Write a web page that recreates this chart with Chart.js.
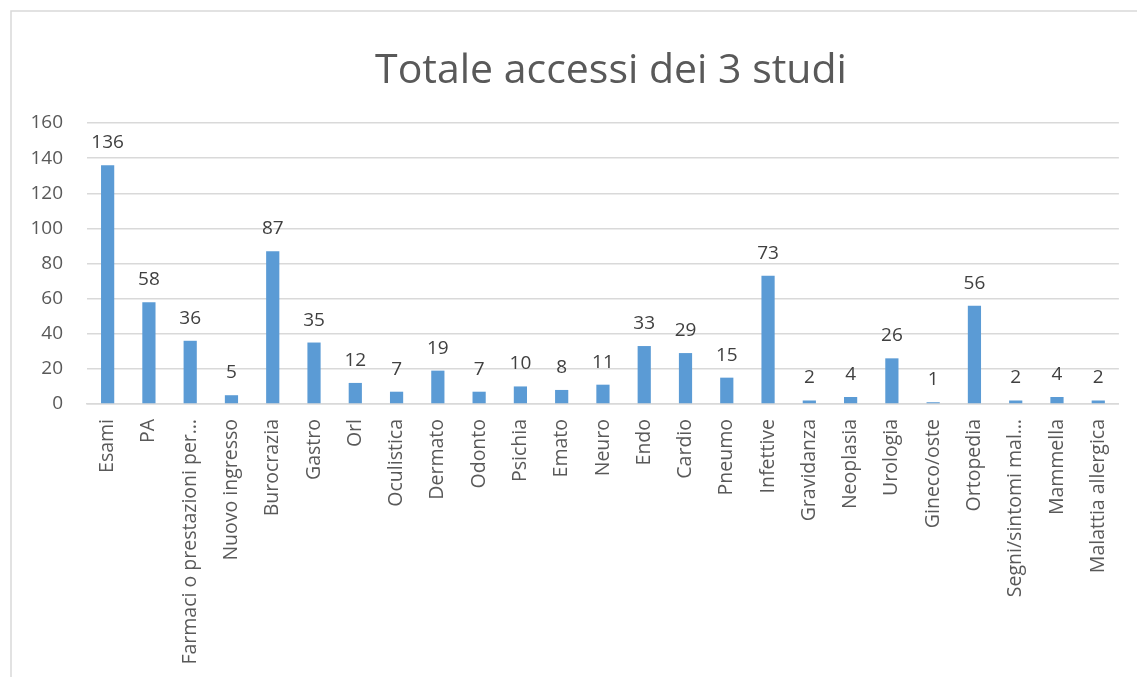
<!DOCTYPE html>
<html>
<head>
<meta charset="utf-8">
<title>Totale accessi dei 3 studi</title>
<script src="https://cdn.jsdelivr.net/npm/chart.js@4.4.0/dist/chart.umd.min.js"></script>
<style>
    html, body { margin: 0; padding: 0; background: #fff; overflow: hidden; }
    #wrap { position: relative; width: 1137px; height: 677px; }
</style>
</head>
<body>
<div id="wrap"><canvas id="accessi-chart" width="1137" height="677"></canvas></div>
<script>
const categories = [
    'Esami', 'PA', 'Farmaci o prestazioni per…', 'Nuovo ingresso', 'Burocrazia',
    'Gastro', 'Orl', 'Oculistica', 'Dermato', 'Odonto', 'Psichia', 'Emato',
    'Neuro', 'Endo', 'Cardio', 'Pneumo', 'Infettive', 'Gravidanza', 'Neoplasia',
    'Urologia', 'Gineco/oste', 'Ortopedia', 'Segni/sintomi mal…', 'Mammella',
    'Malattia allergica'
];
const accessi = [136, 58, 36, 5, 87, 35, 12, 7, 19, 7, 10, 8, 11, 33, 29, 15, 73, 2, 4, 26, 1, 56, 2, 4, 2];
const yTicks = [0, 20, 40, 60, 80, 100, 120, 140, 160];
const chartTitle = 'Totale accessi dei 3 studi';

const FONT = '"Open Sans", "DejaVu Sans", sans-serif';
const TEXT_GREY = '#595959';
const GRID_GREY = '#d9d9d9';
const BAR_BLUE = '#5b9bd5';

// outer frame of the chart object (only top and left edges fall inside the page)
const framePlugin = {
    id: 'frame',
    beforeDraw(chart) {
        const ctx = chart.ctx;
        ctx.save();
        ctx.strokeStyle = GRID_GREY;
        ctx.lineWidth = 1.5;
        ctx.beginPath();
        ctx.moveTo(11, chart.height);
        ctx.lineTo(11, 11);
        ctx.lineTo(chart.width, 11);
        ctx.stroke();
        ctx.restore();
    }
};

// title sits a bit right of the canvas centre, so it is drawn by hand
const titlePlugin = {
    id: 'manualTitle',
    afterDraw(chart) {
        const ctx = chart.ctx;
        ctx.save();
        ctx.font = '41px ' + FONT;
        ctx.fillStyle = TEXT_GREY;
        ctx.textAlign = 'center';
        ctx.textBaseline = 'alphabetic';
        ctx.fillText(chartTitle, 611, 83);
        ctx.restore();
    }
};

// value labels above each bar
const valueLabels = {
    id: 'valueLabels',
    afterDatasetsDraw(chart) {
        const ctx = chart.ctx;
        const meta = chart.getDatasetMeta(0);
        ctx.save();
        ctx.font = '19px ' + FONT;
        ctx.fillStyle = '#404040';
        ctx.textAlign = 'center';
        ctx.textBaseline = 'alphabetic';
        meta.data.forEach((bar, i) => {
            ctx.fillText(String(accessi[i]), bar.x, bar.y - 17);
        });
        ctx.restore();
    }
};

const chart = new Chart(document.getElementById('accessi-chart'), {
    type: 'bar',
    data: {
        labels: categories,
        datasets: [{
            label: 'Totale',
            data: accessi,
            backgroundColor: BAR_BLUE,
            borderWidth: 0,
            barPercentage: 0.32,
            categoryPercentage: 1.0,
        }],
    },
    options: {
        responsive: false,
        animation: false,
        layout: { padding: { top: 123, right: 17, bottom: 0, left: 0 } },
        scales: {
            x: {
                grid: { display: false, drawTicks: false },
                border: { display: true, color: GRID_GREY, width: 1.5 },
                ticks: {
                    color: TEXT_GREY,
                    font: { family: FONT, size: 19.5 },
                    minRotation: 90,
                    maxRotation: 90,
                    autoSkip: false,
                    padding: 15,
                },
                afterFit(scale) { scale.height = 273; },
            },
            y: {
                min: 0,
                max: 160,
                afterBuildTicks(scale) { scale.ticks = yTicks.map(v => ({ value: v })); },
                grid: { color: GRID_GREY, lineWidth: 1.5, drawTicks: false },
                border: { display: false },
                ticks: {
                    color: TEXT_GREY,
                    font: { family: FONT, size: 19 },
                    padding: 24,
                },
                afterFit(scale) { scale.width = 87; },
            },
        },
        plugins: {
            legend: { display: false },
            tooltip: { enabled: false },
            title: { display: false },
        },
    },
    plugins: [framePlugin, valueLabels, titlePlugin],
});
</script>
</body>
</html>
